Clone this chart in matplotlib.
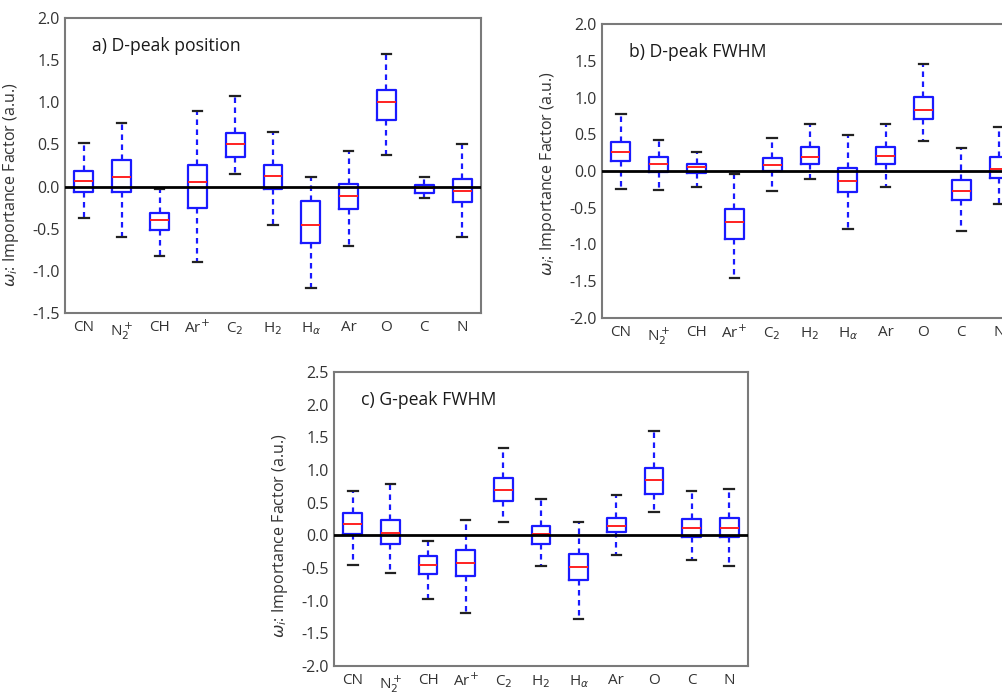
import matplotlib
matplotlib.use("Agg")
import matplotlib.pyplot as plt

plt.rcParams["font.family"] = ["Open Sans", "DejaVu Sans"]
plt.rcParams["axes.unicode_minus"] = False
plt.rcParams["mathtext.fontset"] = "dejavusans"

species = ["CN", r"N$_2^+$", "CH", r"Ar$^{+}$", r"C$_2$", r"H$_2$",
           r"H$_\alpha$", "Ar", "O", "C", "N"]

# a) D-peak position
a_low = [-0.37, -0.60, -0.82, -0.90, 0.15, -0.46, -1.20, -0.70, 0.37, -0.13, -0.60]
a_q1 = [-0.06, -0.07, -0.52, -0.25, 0.35, -0.03, -0.67, -0.27, 0.79, -0.08, -0.18]
a_med = [0.07, 0.11, -0.40, 0.05, 0.50, 0.12, -0.45, -0.11, 1.00, -0.02, -0.05]
a_q3 = [0.18, 0.31, -0.31, 0.25, 0.64, 0.26, -0.17, 0.03, 1.14, 0.02, 0.09]
a_high = [0.52, 0.76, -0.03, 0.90, 1.07, 0.65, 0.11, 0.42, 1.57, 0.11, 0.50]

# b) D-peak FWHM
b_low = [-0.24, -0.26, -0.22, -1.46, -0.27, -0.11, -0.79, -0.22, 0.41, -0.81, -0.45]
b_q1 = [0.13, -0.02, -0.03, -0.92, 0.00, 0.10, -0.29, 0.09, 0.71, -0.40, -0.09]
b_med = [0.26, 0.10, 0.05, -0.69, 0.08, 0.19, -0.14, 0.21, 0.83, -0.27, 0.03]
b_q3 = [0.39, 0.19, 0.10, -0.52, 0.18, 0.33, 0.04, 0.33, 1.01, -0.12, 0.19]
b_high = [0.77, 0.42, 0.26, -0.04, 0.45, 0.64, 0.49, 0.64, 1.45, 0.31, 0.60]

# c) G-peak FWHM
c_low = [-0.45, -0.58, -0.98, -1.19, 0.20, -0.47, -1.28, -0.30, 0.36, -0.38, -0.47]
c_q1 = [0.02, -0.13, -0.59, -0.62, 0.53, -0.14, -0.69, 0.05, 0.64, -0.03, -0.02]
c_med = [0.18, 0.04, -0.45, -0.42, 0.70, 0.02, -0.48, 0.15, 0.84, 0.11, 0.11]
c_q3 = [0.34, 0.24, -0.31, -0.22, 0.87, 0.15, -0.29, 0.27, 1.03, 0.25, 0.27]
c_high = [0.68, 0.79, -0.08, 0.24, 1.33, 0.55, 0.20, 0.61, 1.60, 0.68, 0.71]

panels = [
    ("a) D-peak position", (a_low, a_q1, a_med, a_q3, a_high), (-1.5, 2.0)),
    ("b) D-peak FWHM", (b_low, b_q1, b_med, b_q3, b_high), (-2.0, 2.0)),
    ("c) G-peak FWHM", (c_low, c_q1, c_med, c_q3, c_high), (-2.0, 2.5)),
]

W, H = 1003, 696
# axes boxes in pixels: left, top, width, height
boxes_px = [(65, 18, 416, 295), (602, 24, 416, 294), (334, 372, 414, 294)]
# vertical position of each y label, in axes fraction
label_y = [0.436, 0.49, 0.442]

TEXT = "#333333"
SPINE = "#7a7a7a"


def draw_panel(ax, title, stats, ylim, ly):
    low, q1, med, q3, high = stats
    bxp_stats = [
        {"whislo": lo, "q1": a, "med": m, "q3": b, "whishi": hi}
        for lo, a, m, b, hi in zip(low, q1, med, q3, high)
    ]
    ax.bxp(
        bxp_stats,
        positions=range(1, len(species) + 1),
        widths=0.5,
        capwidths=0.25,
        showfliers=False,
        boxprops=dict(color="#1a1aff", linewidth=1.6),
        whiskerprops=dict(color="#1a1aff", linewidth=1.6, linestyle=(0, (2.5, 2))),
        capprops=dict(color="#222222", linewidth=1.6),
        medianprops=dict(color="#ff2020", linewidth=1.4),
    )
    ax.axhline(0, color="black", linewidth=2, zorder=5)
    ax.set_xlim(0.5, len(species) + 0.5)
    ax.set_ylim(*ylim)
    lo, hi = ylim
    ticks = [lo + 0.5 * k for k in range(int(round((hi - lo) / 0.5)) + 1)]
    ax.set_yticks(ticks)
    ax.set_yticklabels([f"{t:.1f}" for t in ticks])
    ax.set_xticks(range(1, len(species) + 1))
    ax.set_xticklabels(species)
    ax.tick_params(axis="y", length=0, labelsize=11.5, colors=TEXT, pad=4)
    ax.tick_params(axis="x", length=0, labelsize=11, colors=TEXT, pad=5)
    for sp in ax.spines.values():
        sp.set_color(SPINE)
        sp.set_linewidth(1.5)
    ax.set_ylabel(r"$\omega_i$: Importance Factor (a.u.)", fontsize=11.5, color=TEXT)
    ax.yaxis.set_label_coords(-0.106, ly)
    ax.text(0.065, 0.905, title, transform=ax.transAxes, fontsize=12.7,
            color="#1a1a1a", va="center", ha="left")


fig = plt.figure(figsize=(W / 100, H / 100), dpi=100)
for (title, stats, ylim), (x, y, w, h), ly in zip(panels, boxes_px, label_y):
    ax = fig.add_axes([x / W, 1 - (y + h) / H, w / W, h / H])
    draw_panel(ax, title, stats, ylim, ly)

fig.savefig("out.png", dpi=100)
